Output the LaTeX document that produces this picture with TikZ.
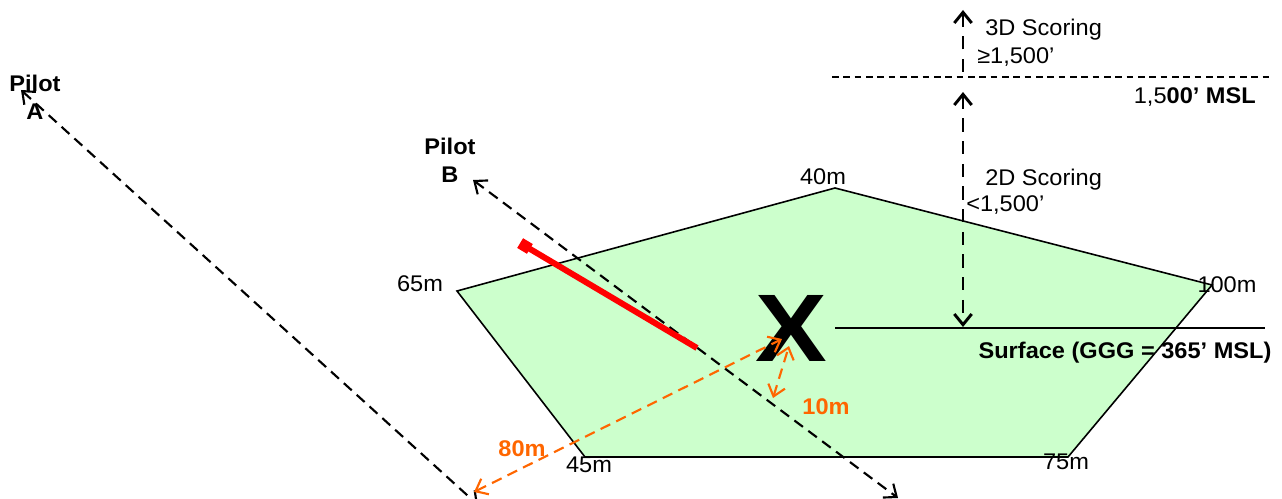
\documentclass[tikz,border=0pt]{standalone}
\usepackage{fontspec}
\setmainfont{Liberation Sans}
\usetikzlibrary{arrows.meta}
\definecolor{zone}{HTML}{CCFFCC}
\definecolor{org}{HTML}{FF6600}
\begin{document}
\begin{tikzpicture}[x=0.75pt,y=-0.75pt,
  >={Straight Barb[length=8pt,width=13pt]},
  lbl/.style={font=\fontsize{17}{19}\selectfont, inner sep=0pt, xscale=1.04, transform shape},
  blbl/.style={lbl, font=\fontsize{17}{19}\selectfont\bfseries},
  olbl/.style={blbl, text=org},
  pilotline/.style={line width=1.6pt, dash pattern=on 8pt off 5pt},
  vline/.style={line width=2.2pt, dash pattern=on 10pt off 7pt},
  oline/.style={org, line width=1.6pt, dash pattern=on 8pt off 5pt},
  edge/.style={line width=1.2pt}]
\useasboundingbox (0,0) rectangle (1282,499);
% zone
\draw[edge, fill=zone] (835,188) coordinate (v40) -- (1212,285) coordinate (v100) -- (1068,457) coordinate (v75) -- (585,457) coordinate (v45) -- (457,291) coordinate (v65) -- cycle;
% labels of vertices
\node[lbl] (l40) at (823,177) {40m};
\node[lbl] (l65) at (420,284) {65m};
\node[lbl] (l100) at (1227,285) {100m};
\node[lbl] (l45) at (589,465) {45m};
\node[lbl] (l75) at (1066,462) {75m};
% pilots
\node[blbl] (pa1) at (35,83) {Pilot};
\node[blbl] (pa2) at (35,112) {A};
\node[blbl] (pb1) at (450,146) {Pilot};
\node[blbl] (pb2) at (450,175) {B};
\coordinate (a1) at (21,90);
\coordinate (a2) at (478,505);
\draw[pilotline, <->] (a1) -- (a2);
\coordinate (b1) at (473,180);
\coordinate (b2) at (898,498);
\draw[pilotline, <->] (b1) -- (b2);
% red track
\coordinate (r2) at (697,348);
\node[fill=red, minimum size=8.5pt, inner sep=0pt, rotate=-31] (sq) at (525,246) {};
\draw[red, line width=4.5pt] (sq.center) -- (r2);
% target
\node[font=\fontsize{72}{72}\selectfont\bfseries, inner sep=0pt, xscale=1.12, transform shape] (X) at (791,328) {X};
% surface
\coordinate (s1) at (835,328);
\coordinate (s2) at (1265,328);
\draw[edge] (s1) -- (s2);
\node[blbl] (surf) at (1125,353) {Surface (GGG = 365’ MSL)};
% altitude
\coordinate (m1) at (832,77);
\coordinate (m2) at (1270,77);
\draw[line width=0.9pt, dash pattern=on 5pt off 3.5pt] (m1) -- (m2);
\node[lbl, anchor=east] (msl) at (1256,97) {1,5\textbf{00’ MSL}};
\coordinate (t1) at (963,72);
\coordinate (t2) at (963,10);
\draw[vline, ->] (t1) -- (t2);
\node[lbl, anchor=west] (s3d) at (985,30) {3D Scoring};
\node[lbl, anchor=west] (g15) at (977,57) {≥1,500’};
\coordinate (d1) at (963,92);
\coordinate (d2) at (963,327);
\draw[vline, <->] (d1) -- (d2);
\node[lbl, anchor=west] (s2d) at (985,180) {2D Scoring};
\node[lbl, anchor=west] (l15) at (966,205) {<1,500’};
% distances
\coordinate (o1) at (474,492);
\coordinate (o2) at (782,339);
\draw[oline, <->] (o1) -- (o2);
\node[olbl] (o80) at (522,449) {80m};
\coordinate (p1) at (773,398);
\coordinate (p2) at (789,346);
\draw[oline, <->] (p1) -- (p2);
\node[olbl] (o10) at (826,407) {10m};
\end{tikzpicture}
\end{document}
